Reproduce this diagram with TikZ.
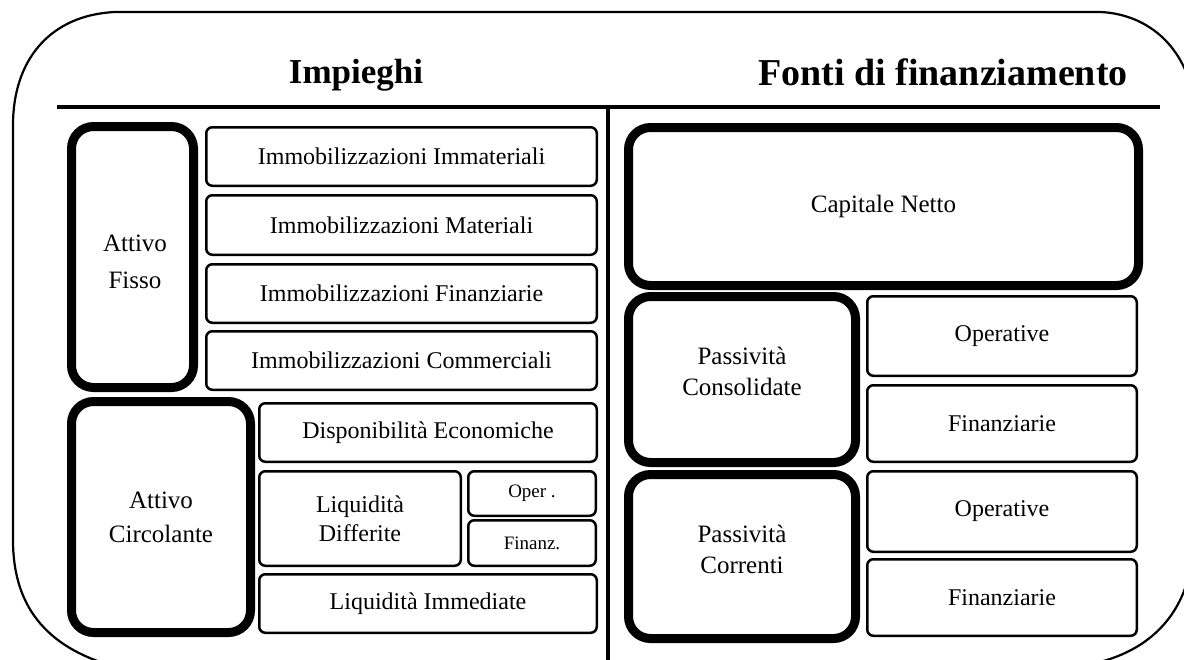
\documentclass[tikz,border=0pt]{standalone}
\usepackage{fontspec}
\setmainfont{Liberation Serif}
\tikzset{
  thinbox/.style={draw, line width=2.5pt, rounded corners=6pt, inner sep=0pt, font=\fontsize{24}{29}\selectfont, align=center},
  thickbox/.style={draw, line width=9pt, rounded corners=22pt, inner sep=0pt, font=\fontsize{25}{34}\selectfont, align=center},
  txt/.style={font=\fontsize{25}{31}\selectfont, align=center, inner sep=0pt},
  head/.style={font=\fontsize{35}{40}\selectfont\bfseries, inner sep=0pt},
  rule/.style={line width=4pt},
  outer/.style={line width=2.2pt}
}
\newcommand\thinbx[6]{\node[thinbox, minimum width={#4pt-#2pt-2.5pt}, minimum height={#5pt-#3pt-2.5pt}] (#1) at ({(#2+#4)/2},{(#3+#5)/2}) {#6};}
\newcommand\thickbx[6]{\node[thickbox, minimum width={#4pt-#2pt-9pt}, minimum height={#5pt-#3pt-9pt}] (#1) at ({(#2+#4)/2},{(#3+#5)/2}) {#6};}
\begin{document}
\begin{tikzpicture}[x=1pt,y=-1pt]
\useasboundingbox (0,0) rectangle (1184,659);
\clip (0,0) rectangle (1184,659);
% outer frame
\draw[outer] (13,125) .. controls (13,60) and (50,15) .. (115,12)
  -- (1100,12) .. controls (1150,14) and (1190,50) .. (1195,110)
  -- (1193,540) .. controls (1193,610) and (1150,663) .. (1060,668)
  -- (120,668) .. controls (50,650) and (13,610) .. (13,540) -- cycle;
% headers
\node[head] (himp) at (356,75) {Impieghi};
\node[head, font=\fontsize{38}{42}\selectfont\bfseries] (hfon) at (943,72) {Fonti di finanziamento};
\coordinate (hl) at (57,107);
\coordinate (hr) at (1160,107);
\coordinate (vt) at (608,107);
\coordinate (vb) at (608,670);
\draw[rule] (hl) -- (hr);
\draw[rule] (vt) -- (vb);
% left side
\thickbx{af}{67}{122}{198}{392}{}
\node[txt, font=\fontsize{25}{37}\selectfont] (afT) at (135,262) {Attivo\\Fisso};
\thinbx{ii}{205}{126}{598}{187}{Immobilizzazioni Immateriali}
\thinbx{im}{205}{194}{598}{256}{Immobilizzazioni Materiali}
\thinbx{if}{205}{263}{598}{324}{Immobilizzazioni Finanziarie}
\thinbx{ic}{205}{330}{598}{391}{Immobilizzazioni Commerciali}
\thickbx{ac}{67}{397}{255}{637}{Attivo\\Circolante}
\thinbx{de}{258}{402}{598}{463}{Disponibilità Economiche}
\thinbx{ld}{258}{470}{462}{567}{Liquidità\\Differite}
\thinbx{op}{467}{470}{597}{517}{\fontsize{19}{22}\selectfont Oper .}
\thinbx{fz}{467}{519}{597}{567}{\fontsize{19}{22}\selectfont Finanz.}
\thinbx{li}{258}{573}{598}{634}{Liquidità Immediate}
% right side
\thickbx{cn}{624}{123}{1143}{290}{Capitale Netto}
\thickbx{pc}{624}{292}{860}{467}{}
\node[txt] (pcT) at (742,371) {Passività\\Consolidate};
\thickbx{pr}{624}{470}{860}{643}{}
\node[txt] (prT) at (742,549) {Passività\\Correnti};
\thinbx{o1}{866}{295}{1138}{377}{Operative}
\thinbx{f1}{866}{384}{1138}{463}{Finanziarie}
\thinbx{o2}{866}{470}{1138}{553}{Operative}
\thinbx{f2}{866}{558}{1138}{637}{Finanziarie}
\end{tikzpicture}
\end{document}
